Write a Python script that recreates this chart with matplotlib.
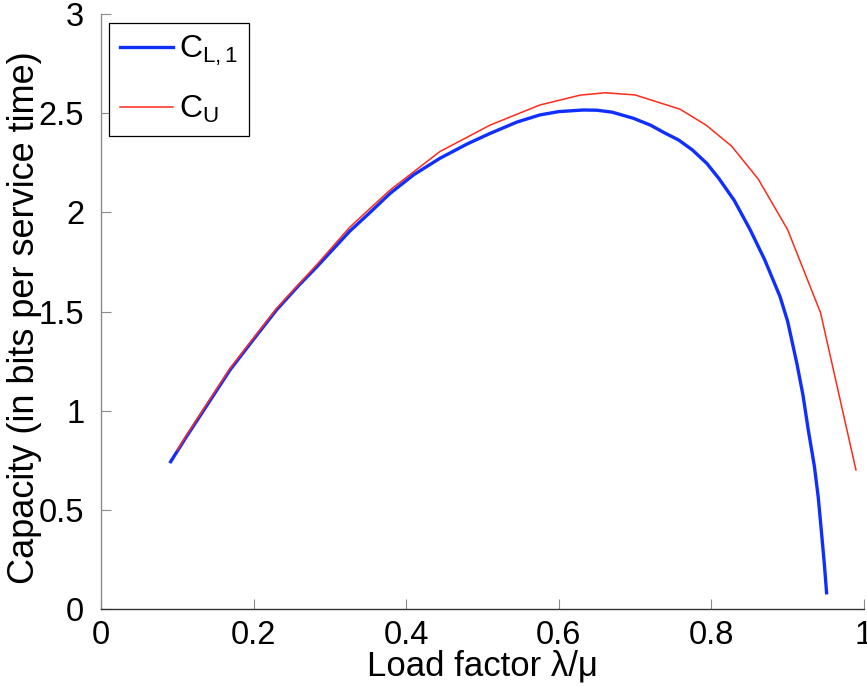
import numpy as np
import matplotlib.pyplot as plt

plt.rcParams['font.family'] = ['Liberation Sans', 'DejaVu Sans']
plt.rcParams['mathtext.fontset'] = 'custom'
plt.rcParams['mathtext.rm'] = 'Liberation Sans'
plt.rcParams['mathtext.it'] = 'Liberation Sans'

# lower bound C_{L,1}
load_lower = [0.0913, 0.112, 0.130, 0.169, 0.200, 0.230, 0.260, 0.283, 0.326,
              0.350, 0.379, 0.410, 0.444, 0.480, 0.510, 0.545, 0.575, 0.600,
              0.632, 0.650, 0.670, 0.698, 0.720, 0.740, 0.757, 0.775, 0.794,
              0.810, 0.830, 0.851, 0.870, 0.890, 0.900, 0.912, 0.920, 0.927,
              0.935, 0.940, 0.944, 0.948, 0.951]
cap_lower = [0.743, 0.869, 0.975, 1.205, 1.360, 1.508, 1.635, 1.726, 1.905,
             1.990, 2.096, 2.190, 2.272, 2.345, 2.398, 2.455, 2.491, 2.508,
             2.516, 2.515, 2.505, 2.474, 2.440, 2.398, 2.365, 2.315, 2.247,
             2.170, 2.060, 1.911, 1.760, 1.575, 1.450, 1.239, 1.080, 0.903,
             0.720, 0.566, 0.400, 0.230, 0.082]

# upper bound C_U
load_upper = [0.100, 0.112, 0.169, 0.230, 0.283, 0.326, 0.379, 0.444, 0.510,
              0.575, 0.628, 0.661, 0.700, 0.759, 0.793, 0.8265, 0.8614,
              0.8999, 0.9431, 0.9895]
cap_upper = [0.80, 0.875, 1.212, 1.515, 1.737, 1.925, 2.113, 2.306, 2.440,
             2.541, 2.591, 2.603, 2.592, 2.520, 2.440, 2.334, 2.168, 1.913,
             1.494, 0.701]

x_ticks = [0, 0.2, 0.4, 0.6, 0.8, 1]
x_tick_labels = ['0', '0.2', '0.4', '0.6', '0.8', '1']
y_ticks = [0, 0.5, 1, 1.5, 2, 2.5, 3]
y_tick_labels = ['0', '0.5', '1', '1.5', '2', '2.5', '3']

fig = plt.figure(figsize=(8.67, 6.87), dpi=100)
ax = fig.add_axes([0.1165, 0.1135, 0.88, 0.8661])

ax.plot(load_lower, cap_lower, color='#0f2fff', lw=2.4,
        label='$\\mathregular{C_{L,1}}$')
ax.plot(load_upper, cap_upper, color='#ff2a1a', lw=1.1,
        label='$\\mathregular{C_U}$')

ax.set_xlim(0, 1)
ax.set_ylim(0, 3)
ax.set_xticks(x_ticks)
ax.set_xticklabels(x_tick_labels)
ax.set_yticks(y_ticks)
ax.set_yticklabels(y_tick_labels)

for side in ['top', 'right']:
    ax.spines[side].set_visible(False)
ax.spines['left'].set_color('#8a8a8a')
ax.spines['bottom'].set_color('#333333')
ax.spines['left'].set_linewidth(1.0)
ax.spines['bottom'].set_linewidth(1.0)
ax.tick_params(direction='in', length=7, width=0.8, color='#8a8a8a',
               labelsize=23.5)
ax.tick_params(axis='y', pad=12)
ax.tick_params(axis='x', pad=8)

ax.set_xlabel('Load factor λ/μ', fontsize=25)
ax.xaxis.set_label_coords(0.5, -0.068)
ax.set_ylabel('Capacity (in bits per service time)', fontsize=26)
ax.yaxis.set_label_coords(-0.077, 0.49)

leg = ax.legend(loc='upper left', bbox_to_anchor=(0.01, 0.985), fontsize=23,
                handlelength=1.65, handletextpad=0.2, borderaxespad=0,
                labelspacing=0.8, fancybox=False, framealpha=1,
                borderpad=0.35)
leg.get_frame().set_edgecolor('black')
leg.get_frame().set_linewidth(0.9)

fig.savefig('out.png', dpi=100)
